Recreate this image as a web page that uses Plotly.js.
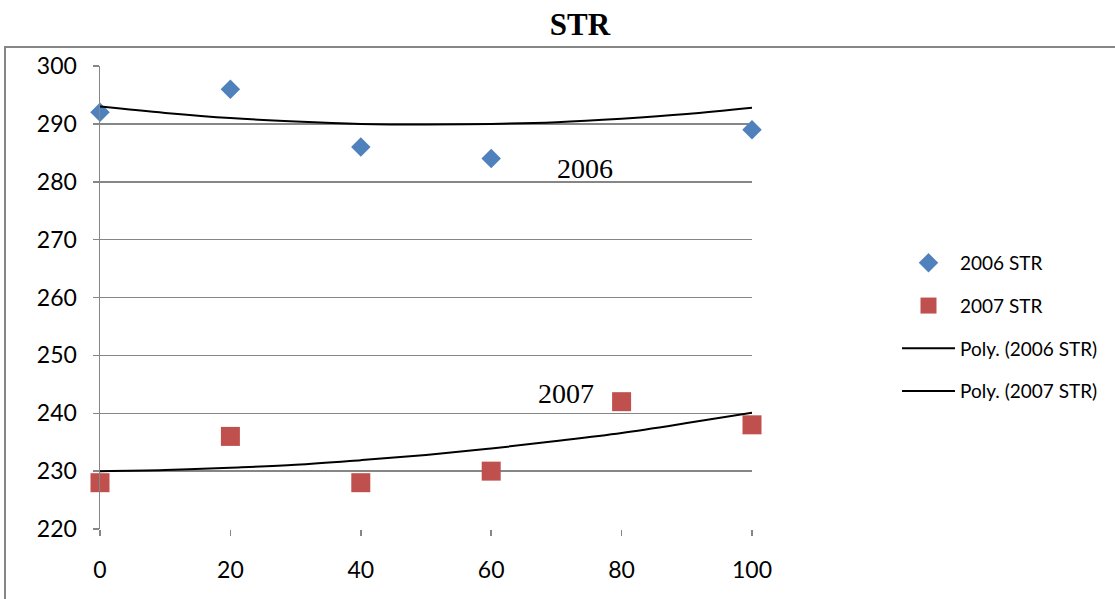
<!DOCTYPE html>
<html>
<head>
<meta charset="utf-8">
<script src="https://cdn.plot.ly/plotly-3.0.1.min.js"></script>
<style>html,body{margin:0;padding:0;background:#fff;}#chart{width:1115px;height:599px;}</style>
</head>
<body>
<div id="chart"></div>
<script>
// Measured points
const x2006 = [0, 20, 40, 60, 100];
const y2006 = [292, 296, 286, 284, 289];
const x2007 = [0, 20, 40, 60, 80, 100];
const y2007 = [228, 236, 228, 230, 242, 238];

// Trend lines (polynomial trendlines)
const trendX = [0, 10, 20, 30, 40, 50, 60, 70, 80, 90, 100];
const trend2006 = [293.0, 291.9, 291.0, 290.4, 290.0, 289.9, 290.0, 290.3, 290.9, 291.7, 292.8];
const trend2007 = [230.0, 230.2, 230.6, 231.1, 231.9, 232.8, 233.9, 235.2, 236.6, 238.3, 240.1];

const names = ['2006 STR', '2007 STR', 'Poly. (2006 STR)', 'Poly. (2007 STR)'];
const xTicks = [0, 20, 40, 60, 80, 100];
const yTicks = [220, 230, 240, 250, 260, 270, 280, 290, 300];

const data = [
  {x: x2006, y: y2006, name: names[0], type: 'scatter', mode: 'markers', legendgroup: 'a', cliponaxis: false,
   marker: {symbol: 'diamond', size: 15, color: '#4F81BD'}},
  {x: x2007, y: y2007, name: names[1], type: 'scatter', mode: 'markers', legendgroup: 'b', cliponaxis: false,
   marker: {symbol: 'square', size: 19, color: '#C0504D'}},
  {x: trendX, y: trend2006, name: names[2], type: 'scatter', mode: 'lines', legendgroup: 'c',
   line: {color: '#000', width: 2, shape: 'spline', smoothing: 1}},
  {x: trendX, y: trend2007, name: names[3], type: 'scatter', mode: 'lines', legendgroup: 'd',
   line: {color: '#000', width: 2, shape: 'spline', smoothing: 1}}
];

const L = 100, R = 752, T = 66, B = 529;
const pw = R - L, ph = B - T;
const px = v => (v - L) / pw;
const py = v => (B - v) / ph;

const tickFont = {family: 'Lato, Open Sans, sans-serif', size: 23, color: '#000'};

const layout = {
  width: 1115, height: 599,
  margin: {l: L, r: 1115 - R, t: T, b: 599 - B, pad: 0, autoexpand: false},
  paper_bgcolor: '#fff', plot_bgcolor: '#fff',
  showlegend: true,
  title: {text: '<b>STR</b>', font: {family: 'Liberation Serif, Times New Roman, serif', size: 31, color: '#000'},
          xref: 'container', yref: 'container', x: 580 / 1115, y: 1 - 24 / 599, xanchor: 'center', yanchor: 'middle'},
  xaxis: {range: [0, 100], tickvals: xTicks, ticktext: xTicks.map(String), showgrid: false, zeroline: false,
          showline: false, ticks: 'outside', ticklen: 6, tickwidth: 1.5, tickcolor: '#868686',
          ticklabelstandoff: 14, tickfont: tickFont},
  yaxis: {range: [220, 300], tickvals: yTicks, ticktext: yTicks.map(String), showgrid: true, gridcolor: '#868686', gridwidth: 1.5,
          zeroline: false, showline: true, linecolor: '#868686', linewidth: 1.5,
          ticks: 'outside', ticklen: 6, tickwidth: 1.5, tickcolor: '#868686',
          ticklabelstandoff: 11, tickfont: tickFont},
  legend: {x: px(897), y: py(244), xanchor: 'left', yanchor: 'top', xref: 'paper', yref: 'paper',
           traceorder: 'grouped', tracegroupgap: 15, itemwidth: 53,
           font: {family: 'Lato, Open Sans, sans-serif', size: 19, color: '#000'},
           bgcolor: 'rgba(0,0,0,0)', borderwidth: 0},
  annotations: [
    {text: '2006', xref: 'paper', yref: 'paper', x: px(585), y: py(168), showarrow: false,
     xanchor: 'center', yanchor: 'middle', font: {family: 'Liberation Serif, Times New Roman, serif', size: 28, color: '#000'}},
    {text: '2007', xref: 'paper', yref: 'paper', x: px(566), y: py(393), showarrow: false,
     xanchor: 'center', yanchor: 'middle', font: {family: 'Liberation Serif, Times New Roman, serif', size: 28, color: '#000'}}
  ],
  shapes: [
    {type: 'path', xref: 'paper', yref: 'paper', layer: 'below',
     path: 'M ' + px(5) + ' ' + py(605) + ' L ' + px(5) + ' ' + py(47) + ' L ' + px(1120) + ' ' + py(47),
     line: {color: '#868686', width: 2}}
  ]
};

Plotly.newPlot('chart', data, layout, {displayModeBar: false, staticPlot: true});
</script>
</body>
</html>
